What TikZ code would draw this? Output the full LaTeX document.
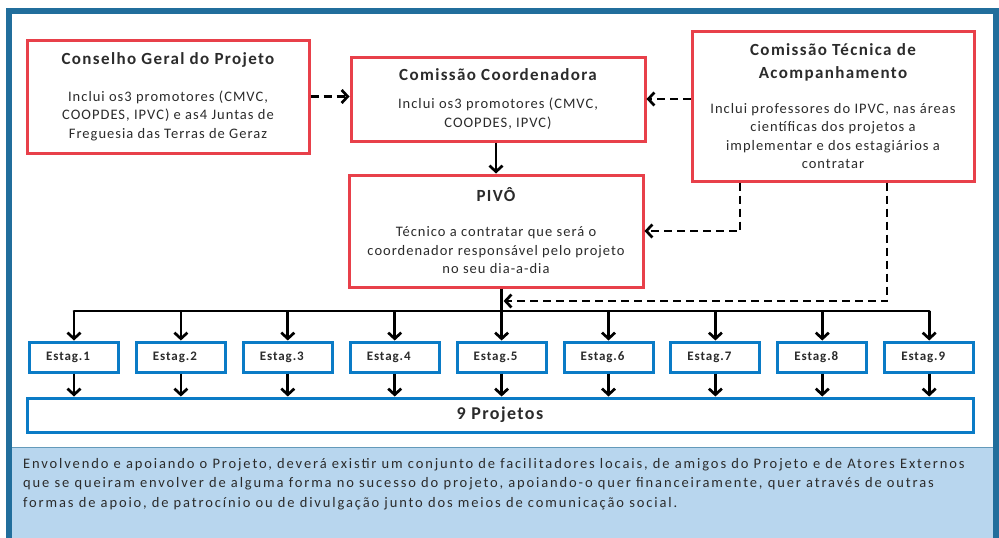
\documentclass[tikz,border=0pt]{standalone}
\usepackage{fontspec}
\setmainfont[LetterSpace=7]{Carlito}
\newfontfamily\titulofont[LetterSpace=8]{Carlito}
\newfontfamily\notafont[LetterSpace=13]{Carlito}
\usetikzlibrary{arrows.meta}
\definecolor{quadro}{HTML}{216E9C}
\definecolor{vermelho}{HTML}{E8404A}
\definecolor{azul}{HTML}{0A7BC6}
\definecolor{painel}{HTML}{B8D6EE}
\definecolor{texto}{HTML}{2B2B2B}
\begin{document}
\begin{tikzpicture}[x=1pt,y=-1pt,
	caixa/.style={draw=vermelho,line width=3pt,fill=white,align=center,inner sep=0pt,text=texto,
		font=\fontsize{14.5}{18.5}\selectfont},
	estag/.style={draw=azul,line width=3pt,fill=white,minimum width=89pt,minimum height=30pt,inner sep=0pt,
		text=texto,font=\fontsize{13}{15}\selectfont\bfseries},
	seta/.style={line width=2.7pt,-{Straight Barb[length=6pt,width=13pt]}},
	tracejado/.style={seta,dash pattern=on 8pt off 5pt}]
	\useasboundingbox (0,0) rectangle (999,538);
	\newcommand\titulo[1]{{\titulofont\fontsize{17}{18.5}\selectfont\bfseries #1}}
	% moldura e painel de baixo
	\fill[painel] (12,447) rectangle (994,545);
	\draw[quadro!70,line width=1pt] (12,447) -- (994,447);
	\draw[quadro,line width=6pt] (9,11) rectangle (996,560);
	% orgaos
	\node[caixa,minimum width=282pt,minimum height=113pt] (cons) at (168,96.5)
	{\titulo{Conselho Geral do Projeto}\\[18.5pt]
		Inclui os3 promotores (CMVC,\\ COOPDES, IPVC) e as4 Juntas de\\ Freguesia das Terras de Geraz};
	\node[caixa,minimum width=294pt,minimum height=84pt] (coord) at (498,99)
	{\titulo{Comissão Coordenadora}\\[10pt]
		Inclui os3 promotores (CMVC,\\ COOPDES, IPVC)};
	\node[caixa,minimum width=282pt,minimum height=150pt] (tec) at (833,106)
	{\titulo{Comissão Técnica de}\\[4.5pt] \titulo{Acompanhamento}\\[16.5pt]
		Inclui professores do IPVC, nas áreas\\ científicas dos projetos a\\
		implementar e dos estagiários a\\ contratar};
	\node[caixa,minimum width=294pt,minimum height=112pt] (pivo) at (496,231)
	{\titulo{PIVÔ}\\[16.5pt]
		Técnico a contratar que será o\\ coordenador responsável pelo projeto\\ no seu dia-a-dia};
	% estagiarios
	\foreach \i in {1,...,9}
	\node[estag] (e\i) at ({74+106.9*(\i-1)},357) {Estag.\i\hspace*{12pt}};
	\node[draw=azul,line width=3pt,fill=white,minimum width=946pt,minimum height=34pt,inner sep=0pt,text=texto,
	font=\titulofont\fontsize{18}{20}\selectfont\bfseries] (proj) at (500,415) {9 Projetos};
	\coordinate (bus) at (0,311);
	% ligacoes
	\draw[tracejado] (cons.east) -- (coord.west |- cons.east);
	\draw[tracejado] (tec.west |- coord.east) -- (coord.east);
	\draw[seta] (coord.south -| pivo.south) -- (pivo.north);
	\draw[tracejado] ([xshift=-93pt]tec.south) |- (pivo.east);
	\draw[line width=2.7pt] (pivo.south -| e5.north) -- (e5.north |- bus);
	\draw[line width=2.7pt,line cap=round] (e1.north |- bus) -- (e9.north |- bus);
	\coordinate (toque) at ([yshift=10pt]e5.north |- bus);
	\draw[tracejado] ([xshift=54pt]tec.south) |- ([xshift=2pt]toque);
	\foreach \i in {1,...,9}{
		\draw[seta] (e\i.north |- bus) -- (e\i.north);
		\draw[seta] (e\i.south) -- (e\i.south |- proj.north);
	}
	% texto do painel
	\node[anchor=north west,align=left,inner sep=0pt,text=texto,font=\notafont\fontsize{14.5}{19.5}\selectfont] (nota) at (23,458)
	{Envolvendo e apoiando o Projeto, deverá existir um conjunto de facilitadores locais, de amigos do Projeto e de Atores Externos\\
		que se queiram envolver de alguma forma no sucesso do projeto, apoiando-o quer financeiramente, quer através de outras\\
		formas de apoio, de patrocínio ou de divulgação junto dos meios de comunicação social.};
\end{tikzpicture}
\end{document}
